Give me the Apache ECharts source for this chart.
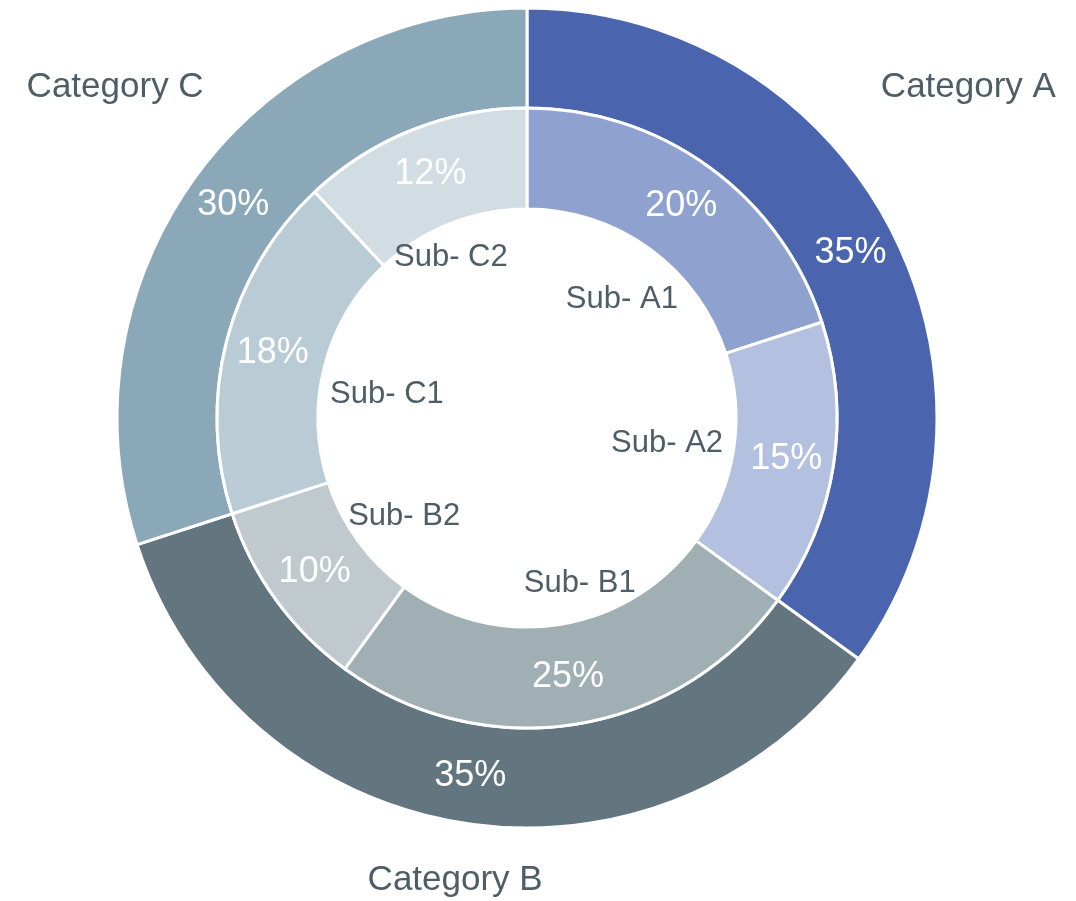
<!DOCTYPE html>
<html>
<head>
<meta charset="utf-8">
<title>Category breakdown</title>
<script src="https://cdn.jsdelivr.net/npm/echarts@6/dist/echarts.min.js"></script>
<style>
  html, body { margin: 0; padding: 0; background: #ffffff; }
  #chart { width: 1076px; height: 901px; }
</style>
</head>
<body>
<div id="chart"></div>
<script>
// Top-level groups (outer ring)
const categories = ['Category A', 'Category B', 'Category C'];
const categoryValues = [35, 35, 30];
const categoryColors = ['#4a65ad', '#63767f', '#8aa8b8'];

// Sub-groups (inner ring)
const subCategories = ['Sub- A1', 'Sub- A2', 'Sub- B1', 'Sub- B2', 'Sub- C1', 'Sub- C2'];
const subValues = [20, 15, 25, 10, 18, 12];
const subColors = ['#8fa1cf', '#b4c0df', '#a0afb4', '#c0c9cd', '#b9cbd5', '#d1dde3'];

// Label placement tweaks
const CENTER = [527, 418];
const FONT = '"Liberation Sans", Arial, Helvetica, sans-serif';
const TEXT_COLOR = '#4e5d66';
// Sub-group name nudges (px) from the mid-angle anchor in the hole
const subNameNudge = [[2, 9], [-16, 1], [28, 9], [5, 6], [13, 16], [-18, -14]];
// Category name anchor points, as fractions of the chart width/height
const categoryNameAnchor = [[0.9, 0.097], [0.423, 0.977], [0.107, 0.097]];

const chart = echarts.init(document.getElementById('chart'), null, { renderer: 'canvas' });

const ringBorder = { borderColor: '#ffffff', borderWidth: 3 };
const pctLabel = {
  show: true,
  position: 'inside',
  formatter: '{c}%',
  color: '#ffffff',
  fontSize: 36,
  fontFamily: FONT
};

chart.setOption({
  animation: false,
  backgroundColor: '#ffffff',
  series: [
    {
      name: 'Categories',
      type: 'pie',
      center: CENTER,
      radius: [310, 410],
      startAngle: 90,
      clockwise: true,
      silent: true,
      itemStyle: ringBorder,
      label: pctLabel,
      labelLine: { show: false },
      data: categories.map((n, i) => ({ name: n, value: categoryValues[i], itemStyle: { color: categoryColors[i] } }))
    },
    {
      name: 'Sub-categories',
      type: 'pie',
      center: CENTER,
      radius: [209, 310],
      startAngle: 90,
      clockwise: true,
      silent: true,
      itemStyle: ringBorder,
      label: pctLabel,
      labelLine: { show: false },
      data: subCategories.map((n, i) => ({ name: n, value: subValues[i], itemStyle: { color: subColors[i] } }))
    },
    {
      // Sub-group names, set inside the central hole
      name: 'Sub names',
      type: 'pie',
      center: CENTER,
      radius: [0, 310],
      startAngle: 90,
      clockwise: true,
      silent: true,
      z: 5,
      itemStyle: { color: 'rgba(0,0,0,0)', borderWidth: 0 },
      label: {
        show: true,
        position: 'inside',
        formatter: '{b}',
        color: TEXT_COLOR,
        fontSize: 31,
        fontFamily: FONT
      },
      labelLayout: function (p) {
        const d = subNameNudge[p.dataIndex];
        return { dx: d[0], dy: d[1] };
      },
      labelLine: { show: false },
      data: subCategories.map((n, i) => ({ name: n, value: subValues[i] }))
    },
    {
      // Category names around the outside
      name: 'Category names',
      type: 'pie',
      center: CENTER,
      radius: [310, 410],
      startAngle: 90,
      clockwise: true,
      silent: true,
      z: 5,
      itemStyle: { color: 'rgba(0,0,0,0)', borderWidth: 0 },
      label: {
        show: true,
        position: 'inside',
        formatter: '{b}',
        color: TEXT_COLOR,
        fontSize: 35,
        fontFamily: FONT
      },
      labelLayout: function (p) {
        const a = categoryNameAnchor[p.dataIndex];
        return {
          x: a[0] * chart.getWidth(),
          y: a[1] * chart.getHeight(),
          align: 'center',
          verticalAlign: 'middle'
        };
      },
      labelLine: { show: false },
      data: categories.map((n, i) => ({ name: n, value: categoryValues[i] }))
    }
  ]
});
</script>
</body>
</html>
